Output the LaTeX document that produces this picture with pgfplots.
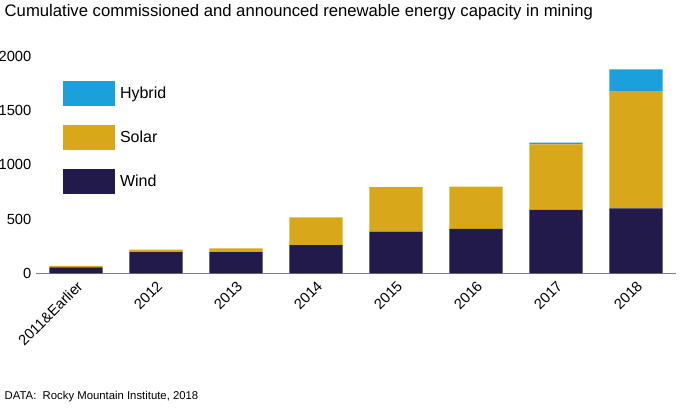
\documentclass[border=0pt]{standalone}
\usepackage{pgfplots}
\pgfplotsset{compat=1.18}
\usepackage{fontspec}
\setmainfont{Liberation Sans}
\definecolor{wind}{HTML}{221A4A}
\definecolor{solar}{HTML}{D9A81A}
\definecolor{hybrid}{HTML}{1BA0DC}
\begin{document}
\begin{tikzpicture}[x=0.75pt,y=0.75pt]
\path[use as bounding box] (0,0) rectangle (698,409);
\begin{axis}[at={(45,125)},anchor=south west,
 width=640*0.75pt, height=217*0.75pt, scale only axis,
 ybar stacked, bar width=40pt,
 xmin=-0.5, xmax=7.5, ymin=0, ymax=2000,
 xtick=data, xticklabels={2011\&Earlier,2012,2013,2014,2015,2016,2017,2018},
 xticklabel style={rotate=45,anchor=north east,font=\fontsize{11}{12}\selectfont},
 ytick=\empty,
 axis y line=none, axis x line*=bottom, x axis line style={gray}, xtick style={draw=none},
 legend style={at={(0.035,0.90)},anchor=north west,draw=none,fill=none,
   font=\fontsize{12}{14}\selectfont,row sep=14pt},
 legend image code/.code={\fill[#1] (-2pt,-9.5pt) rectangle (37pt,9.5pt);},
 legend cell align=left, reverse legend,
 clip=false,
]
\addplot[fill=wind,draw=none] coordinates {(0,55)(1,195)(2,195)(3,260)(4,385)(5,410)(6,585)(7,600)};
\addplot[fill=solar,draw=none] coordinates {(0,15)(1,25)(2,35)(3,255)(4,410)(5,390)(6,605)(7,1080)};
\addplot[fill=hybrid,draw=none] coordinates {(0,0)(1,0)(2,0)(3,0)(4,0)(5,0)(6,15)(7,200)};
\legend{\hspace{2pt}Wind,\hspace{2pt}Solar,\hspace{2pt}Hybrid}
\pgfplotsinvokeforeach{0,500,1000,1500,2000}{\node[anchor=east,font=\fontsize{11}{12}\selectfont] at (axis cs:-0.5,#1) {#1};}
\end{axis}
\node[anchor=north west,font=\fontsize{12.5}{14}\selectfont] at (0,409) {Cumulative commissioned and announced renewable energy capacity in mining};
\node[anchor=south west,font=\fontsize{8.5}{10}\selectfont] at (0,2) {DATA:\ \ Rocky Mountain Institute, 2018};
\end{tikzpicture}
\end{document}
